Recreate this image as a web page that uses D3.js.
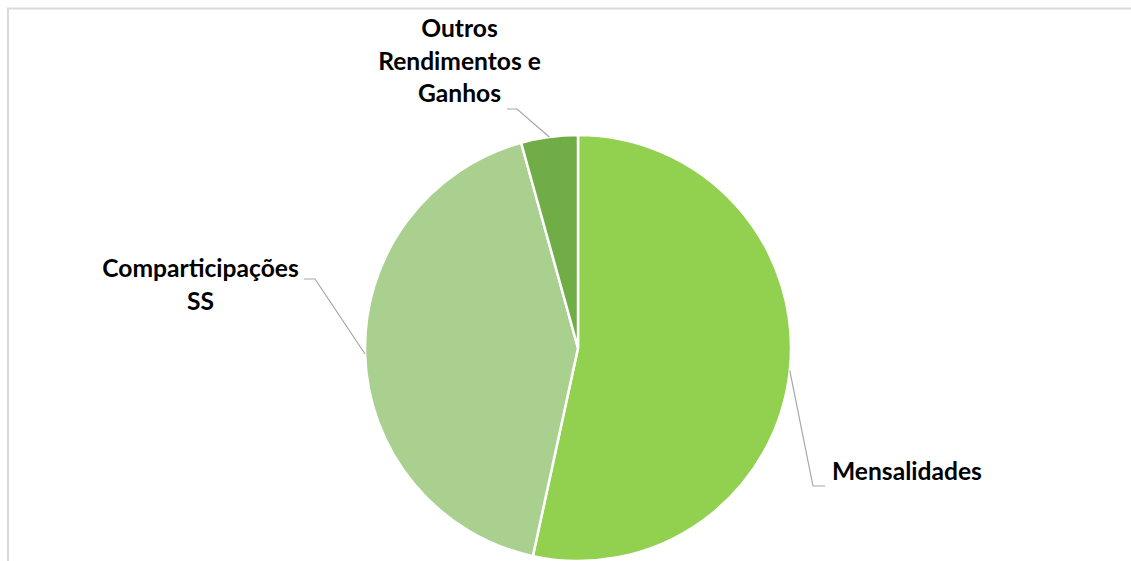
<!DOCTYPE html>
<html><head><meta charset="utf-8">
<script src="https://cdn.jsdelivr.net/npm/d3@7"></script>
<style>html,body{margin:0;padding:0;background:#fff;}svg{display:block;}</style>
</head><body>
<svg id="c" width="1131" height="561"></svg>
<script>
const categories = ["Mensalidades", "Comparticipações SS", "Outros Rendimentos e Ganhos"];
const values = [53.4, 42.3, 4.3];
const labelLines = [["Mensalidades"], ["Comparticipações", "SS"], ["Outros", "Rendimentos e", "Ganhos"]];
const colors = ["#92d050", "#a9d08e", "#70ad47"];

const svg = d3.select("#c");
const W = 1131, H = 561;
const cx = 578, cy = 348, r = 213;

// chart border
svg.append("path").attr("d", `M8,${H} L8,8.5 L${W},8.5`).attr("fill", "none")
  .attr("stroke", "#d9d9d9").attr("stroke-width", 2);

const pie = d3.pie().sort(null).value(d => d)(values);
const arc = d3.arc().innerRadius(0).outerRadius(r);
const g = svg.append("g").attr("transform", `translate(${cx},${cy})`);
g.selectAll("path").data(pie).join("path")
  .attr("d", arc).attr("fill", (d, i) => colors[i])
  .attr("stroke", "#fff").attr("stroke-width", 2.5).attr("stroke-linejoin", "round");

const layout = [
  {elbow: [813 - cx, 486 - cy], end: [825 - cx, 486 - cy], tx: 832 - cx, ty: 480 - cy, anchor: "start"},
  {elbow: [315 - cx, 279 - cy], end: [304 - cx, 279 - cy], tx: 200.5 - cx, ty: 277 - cy, anchor: "middle"},
  {elbow: [517 - cx, 109 - cy], end: [507 - cx, 109 - cy], tx: 459.5 - cx, ty: 37 - cy, anchor: "middle"}
];
const lh = 32.5;
pie.forEach((d, i) => {
  const a = (d.startAngle + d.endAngle) / 2;
  const p = [r * Math.sin(a), -r * Math.cos(a)];
  const L = layout[i];
  g.append("polyline")
    .attr("points", [p, L.elbow, L.end].map(q => q.join(",")).join(" "))
    .attr("fill", "none").attr("stroke", "#a6a6a6").attr("stroke-width", 1.2);
  const t = g.append("text").attr("text-anchor", L.anchor)
    .attr("font-family", "Lato, 'Open Sans', sans-serif").attr("font-weight", "bold")
    .attr("font-size", 24.6).attr("fill", "#000");
  labelLines[i].forEach((s, k) => {
    t.append("tspan").attr("x", L.tx).attr("y", L.ty + k * lh).text(s);
  });
});
</script>
</body></html>
